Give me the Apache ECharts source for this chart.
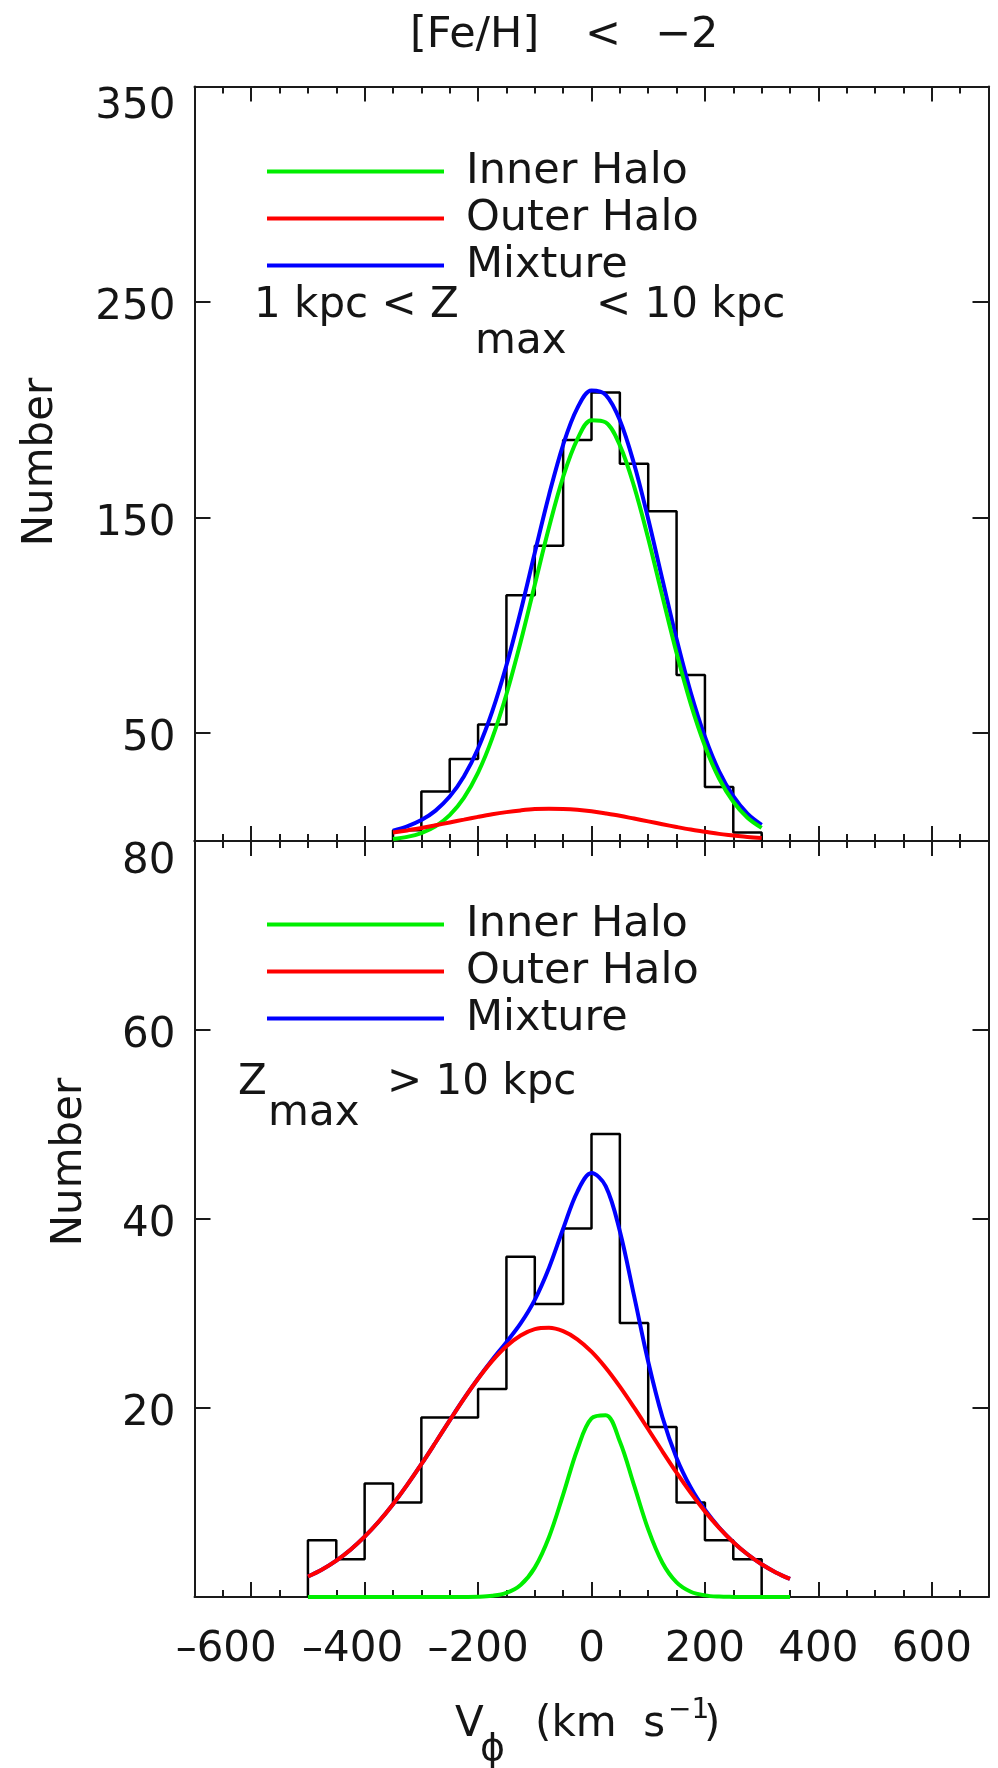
<!DOCTYPE html>
<html>
<head>
<meta charset="utf-8">
<script src="https://cdn.jsdelivr.net/npm/echarts@6/dist/echarts.min.js"></script>
<style>
html,body{margin:0;padding:0;background:#fff;}
#c{width:998px;height:1768px;}
</style>
</head>
<body>
<div id="c"></div>
<script>
// ---------------- data ----------------
const xTickLabels = [-600, -400, -200, 0, 200, 400, 600];
const xMinorTicks = [-650, -550, -500, -450, -350, -300, -250, -150, -100, -50, 50, 100, 150, 250, 300, 350, 450, 500, 550, 650];
const yTopTicks = [50, 150, 250];
const yTopLabels = [50, 150, 250, 350];
const yBottomTicks = [20, 40, 60];
const yBottomLabels = [20, 40, 60, 80];

const binWidth = 50;
const topBinStart = -350;
const topCounts = [5, 23, 38, 54, 114, 137, 186, 208, 175, 153, 77, 25, 4];
const bottomBinStart = -500;
const bottomCounts = [6, 4, 12, 10, 19, 19, 22, 36, 31, 39, 49, 29, 18, 10, 6, 4];

const topCurveV = [-350, -325, -300, -275, -250, -225, -200, -175, -150, -125, -100, -75, -50, -25, 0, 25, 50, 75, 100, 125, 150, 175, 200, 225, 250, 275, 300];
const topInner = [0.9, 1.9, 3.7, 6.8, 12.0, 20.0, 31.7, 47.7, 68.1, 92.3, 118.9, 145.4, 168.9, 186.3, 195.2, 194.2, 183.5, 164.6, 140.3, 113.5, 87.2, 63.6, 44.1, 29.0, 18.2, 10.8, 6.1];
const topOuter = [3.9, 4.9, 6.0, 7.3, 8.6, 9.9, 11.2, 12.4, 13.4, 14.2, 14.8, 15.0, 14.9, 14.5, 13.8, 12.8, 11.7, 10.4, 9.1, 7.8, 6.5, 5.3, 4.3, 3.3, 2.6, 1.9, 1.4];
const topMixture = [4.8, 6.8, 9.7, 14.1, 20.6, 29.9, 42.9, 60.1, 81.5, 106.5, 133.7, 160.4, 183.8, 200.8, 209.0, 207.0, 195.2, 175.0, 149.4, 121.3, 93.7, 68.9, 48.4, 32.3, 20.8, 12.7, 7.5];

const bottomCurveV = [-500, -475, -450, -425, -400, -375, -350, -325, -300, -275, -250, -225, -200, -175, -150, -125, -100, -75, -50, -25, 0, 25, 50, 75, 100, 125, 150, 175, 200, 225, 250, 275, 300, 325, 350];
const bottomInner = [0, 0, 0, 0, 0, 0, 0, 0, 0, 0, 0, 0.01, 0.03, 0.13, 0.44, 1.28, 3.11, 6.33, 10.84, 15.61, 18.9, 19.23, 16.45, 11.83, 7.15, 3.63, 1.55, 0.56, 0.17, 0.04, 0.01, 0, 0, 0, 0];
const bottomOuter = [2.17, 2.92, 3.86, 5.01, 6.39, 7.99, 9.82, 11.86, 14.05, 16.35, 18.69, 20.97, 23.09, 24.98, 26.53, 27.67, 28.34, 28.49, 28.13, 27.27, 25.96, 24.26, 22.26, 20.06, 17.75, 15.42, 13.16, 11.02, 9.06, 7.32, 5.80, 4.52, 3.46, 2.60, 1.91];
const bottomMixture = [2.17, 2.92, 3.86, 5.01, 6.39, 7.99, 9.82, 11.86, 14.05, 16.35, 18.69, 20.98, 23.12, 25.11, 26.97, 28.95, 31.45, 34.82, 38.97, 42.88, 44.86, 43.49, 38.71, 31.89, 24.90, 19.05, 14.71, 11.58, 9.23, 7.36, 5.81, 4.52, 3.46, 2.60, 1.91];

const seriesNames = ['Inner Halo', 'Outer Halo', 'Mixture'];

// ---------------- styling ----------------
const FONT = 'DejaVu Sans';
const AXIS_COLOR = '#1a1a1a';
const TEXT_COLOR = '#151515';
const GREEN = '#00ee00', RED = '#ff0000', BLUE = '#0000ff';

function histPoints(start, counts) {
  const pts = [[start, 0]];
  counts.forEach(function (c, i) {
    const x0 = start + i * binWidth;
    pts.push([x0, c], [x0 + binWidth, c]);
  });
  pts.push([start + counts.length * binWidth, 0]);
  return pts;
}
function pairs(xs, ys) { return xs.map(function (x, i) { return [x, ys[i]]; }); }

// x labels: en-dash minus; the two leftmost labels sit a little left of their ticks
function xLabelFormatter(v) {
  const s = String(v).replace('-', '\u2013');
  if (v === -600) return '{l2|' + s + '}';
  if (v === -400) return '{l1|' + s + '}';
  return '{n|' + s + '}';
}
const xLabelText = { fontFamily: FONT, fontSize: 42, color: TEXT_COLOR };

function xAx(g, pos, ticks, len, line, labels) {
  return {
    type: 'value', gridIndex: g, position: pos, min: -700, max: 700,
    axisLine: { show: line, onZero: false, lineStyle: { color: AXIS_COLOR, width: 2 } },
    axisTick: { show: true, inside: true, length: len, customValues: ticks, lineStyle: { color: AXIS_COLOR, width: 2 } },
    axisLabel: labels ? {
      show: true, customValues: labels, formatter: xLabelFormatter, margin: 32,
      showMinLabel: true, showMaxLabel: true, hideOverlap: false,
      fontFamily: FONT, fontSize: 42, color: TEXT_COLOR,
      rich: {
        n: xLabelText,
        l1: Object.assign({ padding: [0, 24, 0, 0] }, xLabelText),
        l2: Object.assign({ padding: [0, 50, 0, 0] }, xLabelText)
      }
    } : { show: false },
    splitLine: { show: false }
  };
}
function yAx(g, pos, max, ticks, labels) {
  return {
    type: 'value', gridIndex: g, position: pos, min: 0, max: max,
    axisLine: { show: true, onZero: false, lineStyle: { color: AXIS_COLOR, width: 2 } },
    axisTick: { show: true, inside: true, length: 16, customValues: ticks, lineStyle: { color: AXIS_COLOR, width: 2 } },
    axisLabel: labels ? {
      show: true, customValues: labels, margin: 19, verticalAlignMaxLabel: 'top',
      showMinLabel: true, showMaxLabel: true,
      formatter: function (v) { return v === max ? '{a|' + v + '}' : '{b|' + v + '}'; },
      rich: {
        a: { fontFamily: FONT, fontSize: 42, color: TEXT_COLOR },
        b: { fontFamily: FONT, fontSize: 42, color: TEXT_COLOR, padding: [12, 0, 0, 0] }
      }
    } : { show: false },
    splitLine: { show: false }
  };
}
function curve(name, color, xi, yi, xs, ys) {
  return {
    type: 'line', name: name, xAxisIndex: xi, yAxisIndex: yi, data: pairs(xs, ys),
    smooth: 0.35, symbol: 'none', clip: false, silent: true,
    lineStyle: { color: color, width: 4 }, itemStyle: { color: color }
  };
}
function hist(xi, yi, start, counts) {
  return {
    type: 'line', name: 'Histogram', xAxisIndex: xi, yAxisIndex: yi, data: histPoints(start, counts),
    symbol: 'none', clip: false, silent: true,
    lineStyle: { color: '#000', width: 2.5 }, itemStyle: { color: '#000' }
  };
}
function txt(x, y, text, size) {
  return {
    type: 'text', x: x, y: y, silent: true,
    style: { text: text, fontFamily: FONT, fontSize: size, fill: TEXT_COLOR, align: 'left', verticalAlign: 'middle' }
  };
}
function vtxt(x, y, text, size) {
  return {
    type: 'text', x: x, y: y, rotation: Math.PI / 2, silent: true,
    style: { text: text, fontFamily: FONT, fontSize: size, fill: TEXT_COLOR, align: 'center', verticalAlign: 'middle' }
  };
}
function legendAt(top) {
  return {
    data: seriesNames, orient: 'vertical', left: 267, top: top, padding: 0,
    itemWidth: 177, itemHeight: 4, itemGap: 4, icon: 'rect', selectedMode: false,
    textStyle: { fontFamily: FONT, fontSize: 43, color: TEXT_COLOR, padding: [0, 0, 0, 17] }
  };
}

const option = {
  animation: false,
  backgroundColor: '#fff',
  grid: [
    { left: 194.5, width: 794, top: 86.5, height: 754.5 },
    { left: 194.5, width: 794, top: 841, height: 756 }
  ],
  xAxis: [
    xAx(0, 'bottom', xTickLabels, 15, true, null),
    xAx(0, 'bottom', xMinorTicks, 7, false, null),
    xAx(0, 'top', xTickLabels, 15, true, null),
    xAx(0, 'top', xMinorTicks, 7, false, null),
    xAx(1, 'bottom', xTickLabels, 15, true, xTickLabels),
    xAx(1, 'bottom', xMinorTicks, 7, false, null),
    xAx(1, 'top', xTickLabels, 15, true, null),
    xAx(1, 'top', xMinorTicks, 7, false, null)
  ],
  yAxis: [
    yAx(0, 'left', 350, yTopTicks, yTopLabels),
    yAx(0, 'right', 350, yTopTicks, null),
    yAx(1, 'left', 80, yBottomTicks, yBottomLabels),
    yAx(1, 'right', 80, yBottomTicks, null)
  ],
  legend: [legendAt(150), legendAt(903)],
  series: [
    hist(0, 0, topBinStart, topCounts),
    curve('Mixture', BLUE, 0, 0, topCurveV, topMixture),
    curve('Inner Halo', GREEN, 0, 0, topCurveV, topInner),
    curve('Outer Halo', RED, 0, 0, topCurveV, topOuter),
    hist(4, 2, bottomBinStart, bottomCounts),
    curve('Mixture', BLUE, 4, 2, bottomCurveV, bottomMixture),
    curve('Inner Halo', GREEN, 4, 2, bottomCurveV, bottomInner),
    curve('Outer Halo', RED, 4, 2, bottomCurveV, bottomOuter)
  ],
  graphic: [
    // title
    txt(410, 36, '[Fe/H]', 43),
    txt(585, 36, '<', 43),
    txt(655, 36, '\u22122', 43),
    // top annotation
    txt(254, 306, '1 kpc < Z', 42),
    txt(475, 342, 'max', 42),
    txt(596, 306, '< 10 kpc', 42),
    // bottom annotation
    txt(238, 1083, 'Z', 42),
    txt(268, 1114, 'max', 42),
    txt(387, 1083, '> 10 kpc', 42),
    // y axis names
    vtxt(41, 462, 'Number', 42),
    vtxt(70, 1162, 'Number', 42),
    // x axis name
    txt(455, 1725.5, 'V', 42),
    txt(480, 1750, '\u03D5', 38),
    txt(535, 1725.5, '(km  s', 42),
    txt(668, 1711, '\u22121', 28),
    txt(704, 1725.5, ')', 42)
  ]
};

const chart = echarts.init(document.getElementById('c'), null, { renderer: 'canvas', width: 998, height: 1768 });
chart.setOption(option);
</script>
</body>
</html>
